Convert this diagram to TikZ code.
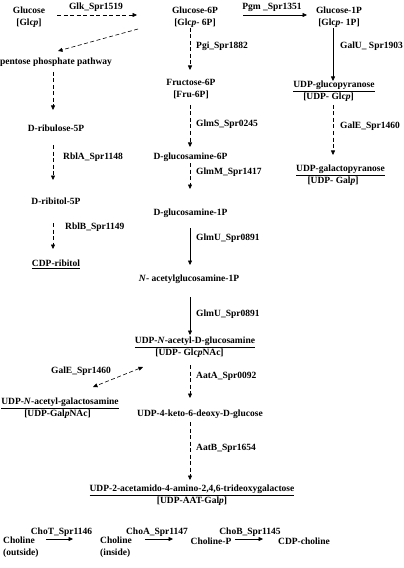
\documentclass[tikz,border=0pt]{standalone}
\usepackage{fontspec}
\setmainfont{Liberation Serif}
\usetikzlibrary{arrows.meta,calc}
\begin{document}
\begin{tikzpicture}[x=1bp,y=-1bp,
  every node/.style={inner sep=0pt, font=\fontsize{9.5bp}{12bp}\selectfont\bfseries, align=center},
  lab/.style={anchor=west},
  con/.style={line width=0.6bp, -{Triangle[length=4.5bp,width=4bp]}},
  dcon/.style={con, dash pattern=on 4bp off 2.5bp},
  ddcon/.style={line width=0.6bp, {Triangle[length=4.5bp,width=4bp]}-{Triangle[length=4.5bp,width=4bp]}, dash pattern=on 4bp off 2.5bp}]
\useasboundingbox[fill=white] (0,0) rectangle (403,568);
% helper coordinates
\coordinate (ax) at (190,0);
\coordinate (lx) at (53,0);
\coordinate (rx) at (333,0);
\coordinate (row1) at (0,15);
\coordinate (row9) at (0,539);
% metabolites
\node (glc) at (29,17.5) {Glucose\\{}[Glc\textit{p}]};
\node (g6p) at (195,17.5) {Glucose-6P\\{}[Glc\textit{p}- 6P]};
\node (g1p) at (339,17.5) {Glucose-1P\\{}[Glc\textit{p}- 1P]};
\node (udpglc) at (334,91) {\underline{UDP-glucopyranose}\\{}[UDP- Glc\textit{p}]\hspace*{11bp}};
\node (udpgal) at (340.5,175.5) {\underline{UDP-galactopyranose}\\{}[UDP- Gal\textit{p}]\hspace*{15bp}};
\node (ppp) at (56,62) {pentose phosphate pathway};
\node (rul) at (56,128) {D-ribulose-5P};
\node (rit) at (56,201) {D-ribitol-5P};
\node (cdpr) at (56,264) {\underline{CDP-ribitol}};
\node (f6p) at (191,89) {Fructose-6P\\{}[Fru-6P]};
\node (gn6p) at (190.5,157) {D-glucosamine-6P};
\node (gn1p) at (190.5,213) {D-glucosamine-1P};
\node (nag1p) at (189,279) {\textit{N}- acetylglucosamine-1P};
\node (udpglcnac) at (195,347.5) {\underline{UDP-\textit{N}-acetyl-D-glucosamine}\\{}[UDP- Glc\textit{p}NAc]\hspace*{11bp}};
\node (udpgalnac) at (60,408.5) {\underline{UDP-\textit{N}-acetyl-galactosamine}\\{}[UDP-Gal\textit{p}NAc]\hspace*{5bp}};
\node (keto) at (200,414) {UDP-4-keto-6-deoxy-D-glucose};
\node (aat) at (192,495) {\underline{UDP-2-acetamido-4-amino-2,4,6-trideoxygalactose}\\{}[UDP-AAT-Gal\textit{p}]};
\node[anchor=west, align=left] (cho1) at (3,547) {Choline\\(outside)};
\node[anchor=west, align=left] (cho2) at (100,547) {Choline\\(inside)};
\node (chop) at (211,541) {Choline-P};
\node (cdpc) at (304,541) {CDP-choline};
% enzyme labels
\node (lglk) at (96,7) {Glk\_Spr1519};
\node (lpgm) at (272,7) {Pgm \_Spr1351};
\node[lab] (lgalu) at (340,46) {GalU\_ Spr1903};
\node[lab] (lgale1) at (340,126) {GalE\_Spr1460};
\node[lab] (lpgi) at (196,46) {Pgi\_Spr1882};
\node[lab] (lglms) at (196,124) {GlmS\_Spr0245};
\node[lab] (lglmm) at (196,172) {GlmM\_Spr1417};
\node[lab] (lglmu1) at (196,238) {GlmU\_Spr0891};
\node[lab] (lglmu2) at (196,314) {GlmU\_Spr0891};
\node[lab] (laata) at (196,376) {AatA\_Spr0092};
\node[lab] (laatb) at (196,448) {AatB\_Spr1654};
\node[lab] (lrbla) at (63,157) {RblA\_Spr1148};
\node[lab] (lrblb) at (65,227) {RblB\_Spr1149};
\node (lgale2) at (81,371) {GalE\_Spr1460};
\node (lchot) at (61.5,532) {ChoT\_Spr1146};
\node (lchoa) at (157,532) {ChoA\_Spr1147};
\node (lchob) at (250,532) {ChoB\_Spr1145};
% connectors
\draw[dcon, shorten <=28bp, shorten >=58bp] (glc.center |- row1) -- (g6p.center |- row1);
\draw[con, shorten <=48bp, shorten >=32bp] (g6p.center |- row1) -- (g1p.center |- row1);
\draw[con, shorten <=10.5bp, shorten >=10bp] (g1p.center -| rx) -- (udpglc.center -| rx);
\draw[dcon, shorten <=14bp, shorten >=20.5bp] (udpglc.center -| rx) -- (udpgal.center -| rx);
\draw[dcon] ($(g6p.center)+(-57,11.5)$) -- ($(ppp.center)+(2,-11)$);
\draw[dcon, shorten <=10bp, shorten >=18bp] (ppp.center -| lx) -- (rul.center -| lx);
\draw[dcon, shorten <=17bp, shorten >=21bp] (rul.center -| lx) -- (rit.center -| lx);
\draw[dcon, shorten <=22bp, shorten >=15bp] (rit.center -| lx) -- (cdpr.center -| lx);
\draw[dcon, shorten <=10.5bp, shorten >=19bp] (g6p.center -| ax) -- (f6p.center -| ax);
\draw[dcon, shorten <=16bp, shorten >=10bp] (f6p.center -| ax) -- (gn6p.center -| ax);
\draw[dcon, shorten <=6bp, shorten >=24bp] (gn6p.center -| ax) -- (gn1p.center -| ax);
\draw[con, shorten <=15bp, shorten >=14bp] (gn1p.center -| ax) -- (nag1p.center -| ax);
\draw[con, shorten <=18bp, shorten >=12.5bp] (nag1p.center -| ax) -- (udpglcnac.center -| ax);
\draw[ddcon] ($(udpglcnac.center)+(-52,19.5)$) -- ($(udpgalnac.center)+(33,-21.5)$);
\draw[dcon, shorten <=17.5bp, shorten >=16bp] (udpglcnac.center -| ax) -- (keto.center -| ax);
\draw[dcon, shorten <=8bp, shorten >=15bp] (keto.center -| ax) -- (aat.center -| ax);
\draw[con, shorten <=43bp, shorten >=27bp] (cho1.west |- row9) -- (cho2.west |- row9);
\draw[con, shorten <=45bp, shorten >=38bp] (cho2.west |- row9) -- (chop.center |- row9);
\draw[con, shorten <=24bp, shorten >=41bp] (chop.center |- row9) -- (cdpc.center |- row9);
\end{tikzpicture}
\end{document}
